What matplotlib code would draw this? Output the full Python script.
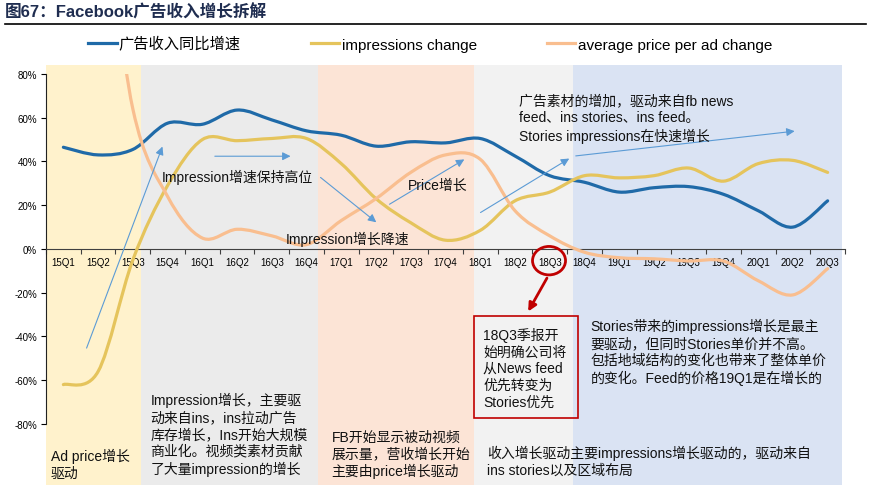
import numpy as np
import matplotlib
matplotlib.use('Agg')
import matplotlib.pyplot as plt
from matplotlib.path import Path
from matplotlib.patches import PathPatch, Rectangle, Ellipse
from matplotlib.lines import Line2D

plt.rcParams['font.family'] = ['Liberation Sans', 'Noto Sans CJK SC']

# data (%)
quarters = ['15Q1', '15Q2', '15Q3', '15Q4', '16Q1', '16Q2', '16Q3', '16Q4',
            '17Q1', '17Q2', '17Q3', '17Q4', '18Q1', '18Q2', '18Q3', '18Q4',
            '19Q1', '19Q2', '19Q3', '19Q4', '20Q1', '20Q2', '20Q3']
revenue_growth = [46.5, 43, 45.5, 57.5, 57, 63.5, 59, 54, 52, 47, 49, 48.5,
                  50.5, 42.5, 33.5, 30.5, 26, 28, 28.5, 25, 17.5, 10, 22]
impressions_change = [-62, -56, -5, 29, 50, 49.5, 50.5, 50.5, 39, 23, 12, 4,
                      8.5, 22, 26, 33.5, 32.5, 33.5, 37, 31, 39, 40.5, 35]
price_change = [200, 170, 64, 24, 5, 9, 6, 2, 13, 23, 35, 43,
                41, 17.5, 6, -1.5, -4, -4.5, -5.5, -5.5, -14.5, -21, -9]

legend_labels = ['广告收入同比增速', 'impressions change', 'average price per ad change']
colors = ['#1F6AA8', '#E5C45C', '#F9BE8F']

# background phases: (start, end, colour) in category units
phases = [(-0.5, 2.24, '#FFF2CC'), (2.24, 7.33, '#EBEBEB'), (7.33, 11.82, '#FCE4D6'),
          (11.82, 14.67, '#F2F2F2'), (14.67, 22.41, '#DAE3F3')]


def smooth_path(vals):
    # excel style smoothed line as cubic bezier segments
    pts = np.column_stack([np.arange(len(vals), dtype=float), np.asarray(vals, float)])
    n = len(pts)
    verts = [pts[0]]
    codes = [Path.MOVETO]
    for i in range(n - 1):
        p0 = pts[max(i - 1, 0)]
        p1 = pts[i]
        p2 = pts[i + 1]
        p3 = pts[min(i + 2, n - 1)]
        verts += [p1 + (p2 - p0) / 6, p2 - (p3 - p1) / 6, p2]
        codes += [Path.CURVE4] * 3
    return Path(verts, codes)


fig = plt.figure(figsize=(8.76, 5.02), dpi=100)
ax = fig.add_axes([46 / 876, 1 - 486 / 502, 799 / 876, 420 / 502])
ax.set_xlim(-0.5, 22.5)
ax.set_ylim(-107.9, 84.1)

for x0, x1, c in phases:
    ax.axvspan(x0, x1, color=c, lw=0, zorder=0)

clip = Rectangle((-0.5, -80), 23, 160, transform=ax.transData, visible=False)
ax.add_patch(clip)
for vals, c in zip([revenue_growth, impressions_change, price_change], colors):
    pp = PathPatch(smooth_path(vals), fill=False, edgecolor=c, lw=2.3,
                   capstyle='round', zorder=3)
    ax.add_patch(pp)
    pp.set_clip_path(clip)

# axes styling
for s in ['top', 'right']:
    ax.spines[s].set_visible(False)
ax.spines['left'].set_bounds(-80, 80)
ax.spines['left'].set_color('#222222')
ax.spines['bottom'].set_position(('data', 0))
ax.spines['bottom'].set_color('#404040')
ax.set_yticks(range(-80, 81, 20))
ax.set_yticklabels([f'{v}%' for v in range(-80, 81, 20)], fontsize=7)
ax.tick_params(axis='y', length=3.5, width=0.8, pad=3)
ax.set_xticks(range(len(quarters)))
ax.set_xticklabels(quarters, fontsize=7)
ax.set_xticks(np.arange(-0.5, 23, 1), minor=True)
ax.tick_params(axis='x', which='major', length=0, pad=6)
ax.tick_params(axis='x', which='minor', length=3.5, width=0.8, color='#404040')

# blue arrows
arrow_kw = dict(arrowstyle='-|>', color='#5B9BD5', lw=0.8, mutation_scale=12)
arrows = [((0.64, -46.5), (2.88, 48)), ((4.28, 42.4), (6.62, 42.4)),
          ((7.34, 33.5), (9.07, 11.4)), ((9.32, 19.8), (11.61, 41.6)),
          ((11.94, 16), (14.63, 42)), ((14.67, 42.4), (21.13, 54))]
for start, end in arrows:
    ax.annotate('', xy=end, xytext=start, arrowprops=arrow_kw, zorder=4)

txt = dict(fontsize=10, color='#111111', ha='left', va='center', zorder=5,
           linespacing=1.25, clip_on=False)
ax.text(2.83, 33.2, 'Impression增速保持高位', **txt)
ax.text(6.41, 4.9, 'Impression增长降速', **txt)
ax.text(9.93, 29.3, 'Price增长', **txt)
ax.text(13.12, 59.8, '广告素材的增加，驱动来自fb news\nfeed、ins stories、ins feed。\n'
        'Stories impressions在快速增长', **txt)
ax.text(-0.37, -98.1, 'Ad price增长\n驱动', **txt)
ax.text(2.51, -84.6, 'Impression增长，主要驱\n动来自ins，ins拉动广告\n库存增长，Ins开始大规模\n'
        '商业化。视频类素材贡献\n了大量impression的增长', **txt)
ax.text(7.72, -93.7, 'FB开始显示被动视频\n展示量，营收增长开始\n主要由price增长驱动', **txt)
ax.text(12.09, -54.2, '18Q3季报开\n始明确公司将\n从News feed\n优先转变为\nStories优先', **txt)
ax.text(15.18, -46.8, 'Stories带来的impressions增长是最主\n要驱动，但同时Stories单价并不高。\n'
        '包括地域结构的变化也带来了整体单价\n的变化。Feed的价格19Q1是在增长的', **txt)
ax.text(12.19, -96.6, '收入增长驱动主要impressions增长驱动的，驱动来自\nins stories以及区域布局', **txt)

# red highlight
ax.add_patch(Rectangle((11.82, -77.3), 3.0, 46.8, fill=False, edgecolor='#C00000',
                       lw=1.2, zorder=5, clip_on=False))
ax.add_patch(Ellipse((13.98, -5.35), 0.95, 13, fill=False, edgecolor='#C00000',
                     lw=2, zorder=5, clip_on=False))
ax.annotate('', xy=(13.34, -29.7), xytext=(13.96, -12.2),
            arrowprops=dict(arrowstyle='-|>', color='#C00000', lw=2, mutation_scale=12),
            zorder=5)

# legend
handles = [Line2D([], [], color=c, lw=2.3) for c in colors]
fig.legend(handles, legend_labels, ncol=3, loc='center', bbox_to_anchor=(0.491, 0.91),
           frameon=False, fontsize=11, handlelength=1.85, handletextpad=0.15,
           columnspacing=4.6)

# title
fig.text(5 / 876, 1 - 12 / 502, '图67：Facebook广告收入增长拆解', fontsize=12,
         fontweight='bold', color='#1F2D50', ha='left', va='center')
fig.add_artist(Line2D([5 / 876, 866 / 876], [1 - 24.5 / 502] * 2, color='black', lw=1.2))

fig.savefig('out.png', dpi=100)
